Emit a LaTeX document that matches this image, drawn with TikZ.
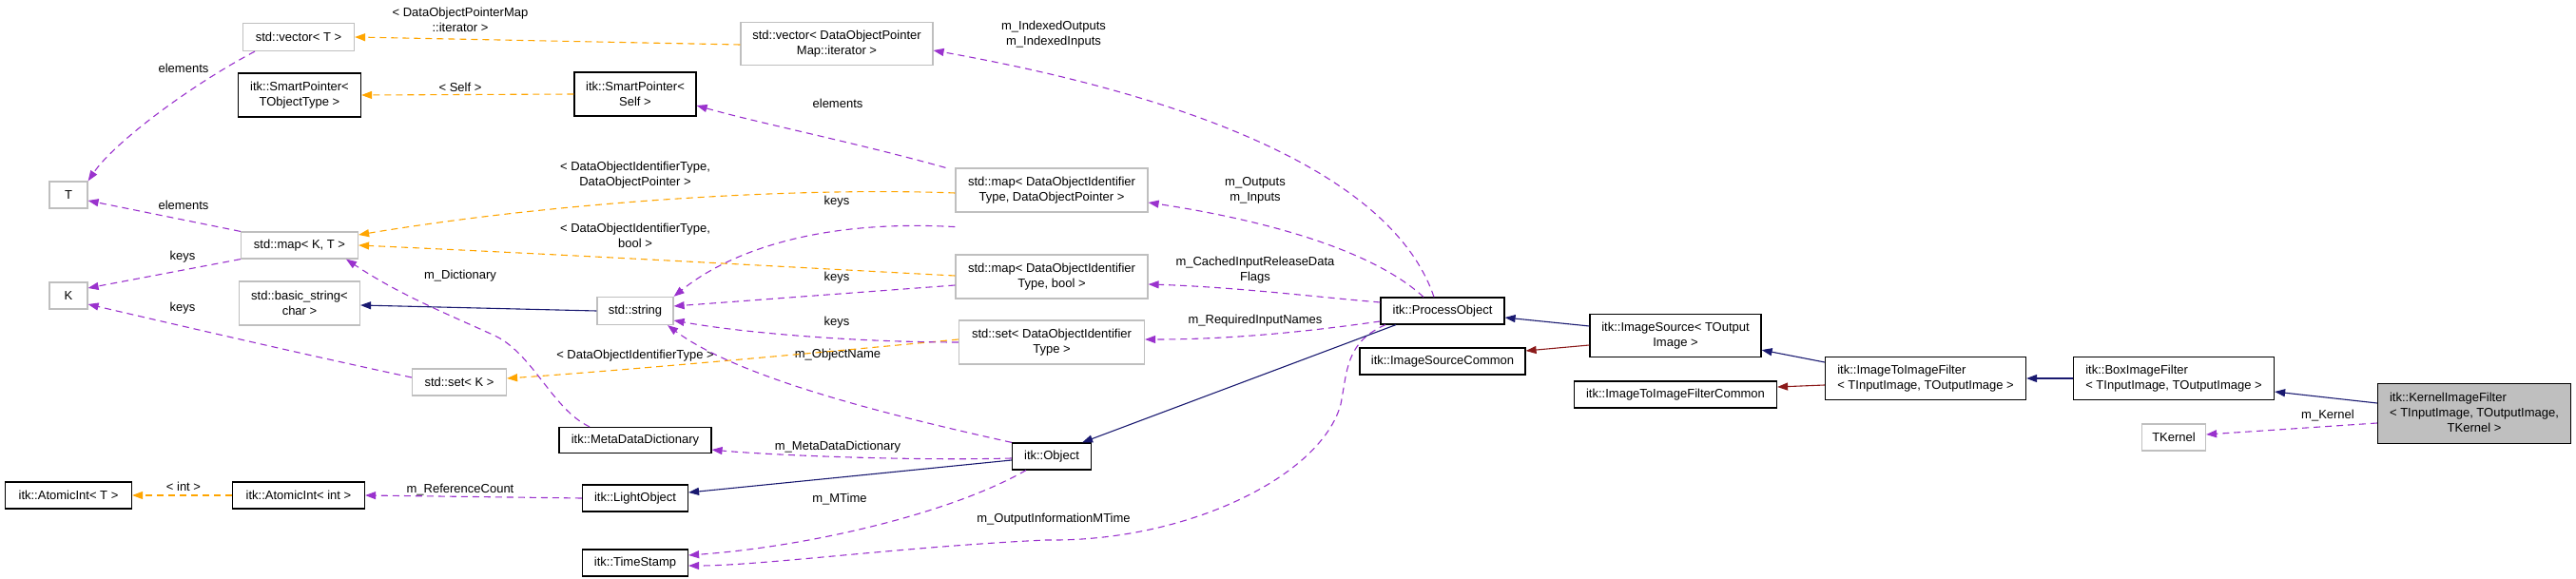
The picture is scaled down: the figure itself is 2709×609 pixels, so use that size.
\documentclass[tikz,border=0pt]{standalone}
\usepackage{fontspec}
\setmainfont{Liberation Sans}
\usetikzlibrary{arrows.meta}
\definecolor{pur}{HTML}{9A32CD}
\definecolor{org}{HTML}{FFA500}
\definecolor{nav}{HTML}{191970}
\definecolor{dred}{HTML}{8B1A1A}
\definecolor{gbord}{HTML}{BFBFBF}
\begin{document}
\begin{tikzpicture}[x=1pt,y=-1pt,
  every node/.style={font=\fontsize{13}{16}\selectfont, inner sep=0pt},
  nb/.style={draw=black, line width=1.2pt, fill=white, align=center},
  gb/.style={draw=gbord, line width=1.2pt, fill=white, align=center},
  lb/.style={align=center, font=\fontsize{13}{16}\selectfont},
  tip/.style={-{Triangle[length=11pt,width=8pt]}},
  uses/.style={tip, draw=pur, line width=1.1pt, dash pattern=on 7pt off 5pt},
  tmpl/.style={tip, draw=org, line width=1.1pt, dash pattern=on 7pt off 5pt},
  inh/.style={tip, draw=nav, line width=1.1pt},
  prot/.style={tip, draw=dred, line width=1.1pt}]
\useasboundingbox (0,0) rectangle (2709,609);
% nodes
\node[gb, minimum width=117, minimum height=29] (vecT) at (314,39) {std::vector< T >};
\node[nb, minimum width=129, minimum height=46] (spT) at (315,100) {itk::SmartPointer<\\TObjectType >};
\node[gb, minimum width=40, minimum height=28] (T) at (72,205) {T};
\node[gb, minimum width=123, minimum height=28] (mapKT) at (315,258) {std::map< K, T >};
\node[gb, minimum width=40, minimum height=28] (K) at (72,311) {K};
\node[gb, minimum width=127, minimum height=46] (bstr) at (315,319) {std::basic\_string<\\char >};
\node[gb, minimum width=99, minimum height=28] (setK) at (483,402) {std::set< K >};
\node[nb, minimum width=133, minimum height=28] (aiT) at (72,521) {itk::AtomicInt< T >};
\node[nb, minimum width=139, minimum height=28] (aiInt) at (314,521) {itk::AtomicInt< int >};
\node[gb, minimum width=202, minimum height=45] (vecDOPM) at (880,46) {std::vector< DataObjectPointer\\Map::iterator >};
\node[nb, minimum width=128, minimum height=46] (spSelf) at (668,99) {itk::SmartPointer<\\Self >};
\node[gb, minimum width=202, minimum height=46] (mapDOP) at (1106,200) {std::map< DataObjectIdentifier\\Type, DataObjectPointer >};
\node[gb, minimum width=202, minimum height=46] (mapBool) at (1106,291) {std::map< DataObjectIdentifier\\Type, bool >};
\node[gb, minimum width=80, minimum height=29] (str) at (668,327) {std::string};
\node[gb, minimum width=195, minimum height=46] (setDOIT) at (1106,360) {std::set< DataObjectIdentifier\\Type >};
\node[nb, minimum width=160, minimum height=27] (MDD) at (668,463) {itk::MetaDataDictionary};
\node[nb, minimum width=83, minimum height=28] (Obj) at (1106,480) {itk::Object};
\node[nb, minimum width=111, minimum height=28] (LO) at (668,524) {itk::LightObject};
\node[nb, minimum width=111, minimum height=28] (TS) at (668,592) {itk::TimeStamp};
\node[nb, minimum width=130, minimum height=28] (PO) at (1517,327) {itk::ProcessObject};
\node[nb, minimum width=180, minimum height=45] (IS) at (1762,353) {itk::ImageSource< TOutput\\Image >};
\node[nb, minimum width=174, minimum height=28] (ISC) at (1517,380) {itk::ImageSourceCommon};
\node[nb, minimum width=211, minimum height=45, align=left] (IIF) at (2025,398) {itk::ImageToImageFilter\\< TInputImage, TOutputImage >};
\node[nb, minimum width=213, minimum height=28] (IIFC) at (1762,415) {itk::ImageToImageFilterCommon};
\node[nb, minimum width=211, minimum height=45, align=left] (Box) at (2286,398) {itk::BoxImageFilter\\< TInputImage, TOutputImage >};
\node[gb, minimum width=67, minimum height=28] (TK) at (2286,460) {TKernel};
\node[nb, fill=gbord, minimum width=203, minimum height=63] (Ker) at (2602,435) {\begin{tabular}{@{}l@{}}itk::KernelImageFilter\\< TInputImage, TOutputImage,\\\multicolumn{1}{@{}c@{}}{TKernel >}\end{tabular}};
% labels
\node[lb] (l1) at (484,21) {< DataObjectPointerMap\\::iterator >};
\node[lb] (l2) at (193,72) {elements};
\node[lb] (l3) at (484,92) {< Self >};
\node[lb] (l4) at (668,184) {< DataObjectIdentifierType,\\DataObjectPointer >};
\node[lb] (l5) at (193,216) {elements};
\node[lb] (l6) at (668,248) {< DataObjectIdentifierType,\\bool >};
\node[lb] (l7) at (192,270) {keys};
\node[lb] (l8) at (484,290) {m\_Dictionary};
\node[lb] (l9) at (192,324) {keys};
\node[lb] (l10) at (668,374) {< DataObjectIdentifierType >};
\node[lb] (l11) at (881,373) {m\_ObjectName};
\node[lb] (l12) at (881,109) {elements};
\node[lb] (l13) at (880,212) {keys};
\node[lb] (l14) at (880,292) {keys};
\node[lb] (l15) at (880,339) {keys};
\node[lb] (l16) at (1108,36) {m\_IndexedOutputs\\m\_IndexedInputs};
\node[lb] (l17) at (1320,200) {m\_Outputs\\m\_Inputs};
\node[lb] (l18) at (1320,284) {m\_CachedInputReleaseData\\Flags};
\node[lb] (l19) at (1320,337) {m\_RequiredInputNames};
\node[lb] (l20) at (881,470) {m\_MetaDataDictionary};
\node[lb] (l21) at (883,525) {m\_MTime};
\node[lb] (l22) at (1108,546) {m\_OutputInformationMTime};
\node[lb] (l23) at (484,515) {m\_ReferenceCount};
\node[lb] (l24) at (193,512) {< int >};
\node[lb] (l25) at (2448,437) {m\_Kernel};
% template edges
\draw[tmpl] ([yshift=-1pt]vecDOPM.west) -- (vecT.east);
\draw[tmpl] (spSelf.west) -- (spT.east);
\draw[tmpl] ([yshift=-3pt]mapDOP.west) .. controls (850,197) and (600,210) .. ([yshift=11pt]mapKT.east);
\draw[tmpl] ([yshift=1pt]mapBool.west) .. controls (850,282) and (600,268) .. (mapKT.east);
\draw[tmpl] ([yshift=3pt]setDOIT.west) .. controls (850,372) and (650,390) .. ([yshift=4pt]setK.east);
\draw[tmpl] (aiInt.west) -- (aiT.east);
% uses edges
\draw[uses] ([xshift=-46pt]vecT.south) .. controls (200,90) and (120,150) .. (T.north east);
\draw[uses] (mapKT.north west) -- ([yshift=-6pt]T.east);
\draw[uses] (mapKT.south west) -- ([yshift=8pt]K.east);
\draw[uses] ([yshift=5pt]setK.west) .. controls (330,375) and (200,345) .. ([yshift=-9pt]K.east);
\draw[uses] ([xshift=-48pt]MDD.north) .. controls (580,430) and (560,370) .. (518,352) .. controls (470,330) and (420,310) .. ([xshift=49pt]mapKT.south);
\draw[uses] ([xshift=-10pt]mapDOP.north west) .. controls (900,150) and (800,130) .. ([yshift=-12pt]spSelf.east);
\draw[uses] ([yshift=-15pt]mapDOP.south west) .. controls (850,230) and (760,270) .. (str.north east);
\draw[uses] ([yshift=-9pt]mapBool.west) -- ([yshift=5pt]str.east);
\draw[uses] (setDOIT.west) .. controls (900,360) and (780,350) .. ([yshift=-10pt]str.east);
\draw[uses] (Obj.north west) .. controls (950,440) and (780,400) .. ([xshift=34pt]str.south);
\draw[uses] ([yshift=-2pt]Obj.west) .. controls (950,485) and (800,478) .. ([yshift=-10pt]MDD.east);
\draw[uses] ([xshift=-27pt]Obj.south) .. controls (1000,540) and (850,575) .. ([yshift=8pt]TS.east);
\draw[uses] (LO.west) -- (aiInt.east);
\draw[uses] ([xshift=-9pt]PO.north) .. controls (1470,200) and (1300,110) .. ([yshift=-7pt]vecDOPM.east);
\draw[uses] ([xshift=-20pt]PO.north) .. controls (1440,260) and (1320,230) .. ([yshift=-13pt]mapDOP.east);
\draw[uses] ([yshift=9pt]PO.west) .. controls (1380,312) and (1300,302) .. ([yshift=-8pt]mapBool.east);
\draw[uses] ([yshift=-11pt]PO.west) .. controls (1380,348) and (1300,357) .. ([yshift=3pt]setDOIT.east);
\draw[uses] ([xshift=-60pt]PO.south) .. controls (1415,360) and (1417,390) .. (1410,425) .. controls (1390,500) and (1250,570) .. (1100,568) .. controls (950,575) and (800,595) .. ([yshift=-3pt]TS.east);
\draw[uses] ([yshift=-10pt]Ker.west) -- ([yshift=3pt]TK.east);
% inheritance
\draw[inh] (str.west) -- ([yshift=-2pt]bstr.east);
\draw[inh] ([yshift=-4pt]Obj.west) -- ([yshift=6pt]LO.east);
\draw[inh] ([xshift=-49pt]PO.south) -- ([xshift=-10pt]Obj.north east);
\draw[inh] ([yshift=10pt]IS.west) -- ([yshift=-7pt]PO.east);
\draw[inh] ([yshift=17pt]IIF.west) -- ([yshift=8pt]IS.south east);
\draw[inh] (Box.west) -- (IIF.east);
\draw[inh] ([yshift=11pt]Ker.west) -- ([yshift=-14pt]Box.east);
% protected
\draw[prot] ([yshift=-10pt]IS.west) -- ([yshift=11pt]ISC.east);
\draw[prot] ([yshift=-7pt]IIF.west) -- ([yshift=8pt]IIFC.east);
\end{tikzpicture}
\end{document}
